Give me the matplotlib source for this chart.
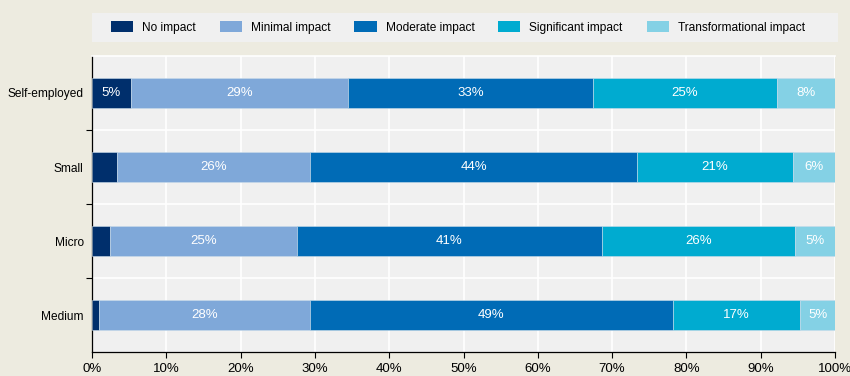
import matplotlib
matplotlib.use("Agg")
import matplotlib.pyplot as plt
import numpy as np

plt.rcParams['font.family'] = ['Liberation Sans', 'DejaVu Sans']

# firm size categories, top to bottom
categories = ['Self-employed', 'Small', 'Micro', 'Medium']
levels = ['No impact', 'Minimal impact', 'Moderate impact',
          'Significant impact', 'Transformational impact']

# shares (%) per impact level, one list per level in category order
no_impact = [5.2, 3.4, 2.4, 0.9]
minimal_impact = [29.3, 25.9, 25.2, 28.4]
moderate_impact = [32.9, 44.1, 41.0, 48.9]
significant_impact = [24.8, 20.9, 26.0, 17.1]
transformational_impact = [7.8, 5.7, 5.4, 4.7]

series = [no_impact, minimal_impact, moderate_impact,
          significant_impact, transformational_impact]
colors = ['#002F6C', '#7FA8D9', '#006BB6', '#00ABD0', '#84D1E5']

xticks = np.arange(0, 101, 10)
xtick_labels = ['%d%%' % v for v in xticks]

fig = plt.figure(figsize=(8.5, 3.76), dpi=100)
fig.patch.set_facecolor('#EDEBE0')
ax = fig.add_axes([92 / 850, 24 / 376, 743 / 850, 296 / 376])
ax.set_facecolor('#F0F0F0')

y = np.arange(len(categories))[::-1]
left = np.zeros(len(categories))
for name, vals, col in zip(levels, series, colors):
    vals = np.array(vals)
    ax.barh(y, vals, left=left, height=0.405, color=col, label=name,
            edgecolor='#C9DCEB', linewidth=0.4, zorder=3)
    for yi, l, v in zip(y, left, vals):
        if v >= 4:
            ax.text(l + v / 2, yi, '%d%%' % round(v), ha='center', va='center',
                    color='white', fontsize=9.5, zorder=4)
    left += vals

ax.set_xlim(0, 100)
ax.set_ylim(-0.5, 3.5)
ax.set_xticks(xticks)
ax.set_xticklabels(xtick_labels, fontsize=9.5)
ax.set_yticks(y)
ax.set_yticklabels(categories, fontsize=8.6)
ax.tick_params(axis='y', length=0, pad=6)
ax.tick_params(axis='x', length=4, width=0.8, direction='out', pad=4)

# separators between categories
ax.set_yticks([0.5, 1.5, 2.5], minor=True)
ax.tick_params(axis='y', which='minor', length=4, width=0.8)
ax.grid(axis='y', which='minor', color='white', linewidth=1.2, zorder=1)
ax.grid(axis='x', which='major', color='white', linewidth=1.2, zorder=1)
ax.set_axisbelow(True)

ax.spines['right'].set_visible(False)
ax.spines['top'].set_color('white')
ax.spines['top'].set_linewidth(1.2)
for s in ['left', 'bottom']:
    ax.spines[s].set_color('black')
    ax.spines[s].set_linewidth(0.9)

# legend strip above the plot
box = plt.Rectangle((92 / 850, 334 / 376), 746 / 850, 29 / 376, transform=fig.transFigure,
                    facecolor='#F0F0F0', edgecolor='none', zorder=0)
fig.patches.append(box)
leg = fig.legend(loc='center', bbox_to_anchor=(458 / 850, 348.5 / 376),
                 ncol=5, frameon=False, fontsize=8.6,
                 handlelength=1.85, handleheight=0.95, handletextpad=0.75,
                 columnspacing=2.0, borderaxespad=0, borderpad=0)
for h in leg.legend_handles:
    h.set_linewidth(0)

fig.savefig('out.png', dpi=100, facecolor=fig.get_facecolor())
